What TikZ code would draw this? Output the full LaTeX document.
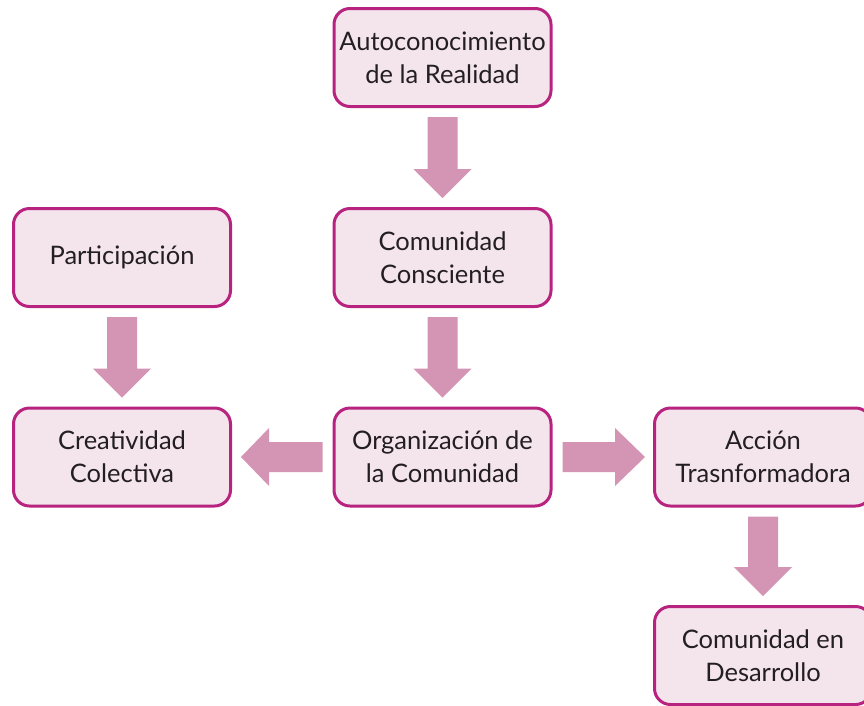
\documentclass[tikz,border=0pt]{standalone}
\usepackage{fontspec}
\setmainfont{Lato}
\usetikzlibrary{calc}
\definecolor{boxfill}{HTML}{F4E4EC}
\definecolor{boxline}{HTML}{B8237F}
\definecolor{arrfill}{HTML}{D494B4}
\definecolor{txt}{HTML}{231F20}
\tikzset{
  stepbox/.style={draw=boxline, line width=3pt, fill=boxfill, rounded corners=16pt,
    minimum width=217pt, minimum height=98pt, inner sep=0pt, align=center,
    text=txt, font=\fontsize{25.5}{33}\selectfont},
  arrshape/.style={fill=arrfill, draw=none}
}
\newcommand\downarr[2]{% from node #1 to node #2
  \path let \p1=(#1.south), \p2=(#2.north) in
    [arrshape] (\x1-15pt,\y1-9pt) -- (\x1+15pt,\y1-9pt) -- (\x1+15pt,\y2+38pt)
    -- (\x1+29pt,\y2+38pt) -- (\x1,\y2+9pt) -- (\x1-29pt,\y2+38pt)
    -- (\x1-15pt,\y2+38pt) -- cycle;}
\newcommand\rightarr[2]{%
  \path let \p1=(#1.east), \p2=(#2.west) in
    [arrshape] (\x1+10pt,\y1-15pt) -- (\x1+10pt,\y1+15pt) -- (\x2-38pt,\y1+15pt)
    -- (\x2-38pt,\y1+29pt) -- (\x2-8pt,\y1) -- (\x2-38pt,\y1-29pt)
    -- (\x2-38pt,\y1-15pt) -- cycle;}
\newcommand\leftarr[2]{%
  \path let \p1=(#1.west), \p2=(#2.east) in
    [arrshape] (\x1-10pt,\y1-15pt) -- (\x1-10pt,\y1+15pt) -- (\x2+37pt,\y1+15pt)
    -- (\x2+37pt,\y1+29pt) -- (\x2+9pt,\y1) -- (\x2+37pt,\y1-29pt)
    -- (\x2+37pt,\y1-15pt) -- cycle;}
\begin{document}
\begin{tikzpicture}[x=1pt,y=-1pt]
\clip (0,0) rectangle (864,705);
\fill[white] (0,0) rectangle (864,705);
\node[stepbox] (auto) at (442.5,57.5) {Autoconocimiento\\de la Realidad};
\node[stepbox] (cons) at (442.5,257.5) {Comunidad\\Consciente};
\node[stepbox] (part) at (122,257.5) {Participación};
\node[stepbox] (crea) at (122,457) {Creatividad\\Colectiva};
\node[stepbox] (orga) at (442.5,457) {Organización de\\la Comunidad};
\node[stepbox] (acci) at (763,457) {Acción\\Trasnformadora};
\node[stepbox] (desa) at (763,655.5) {Comunidad en\\Desarrollo};
\downarr{auto}{cons}
\downarr{cons}{orga}
\downarr{part}{crea}
\downarr{acci}{desa}
\leftarr{orga}{crea}
\rightarr{orga}{acci}
\end{tikzpicture}
\end{document}
